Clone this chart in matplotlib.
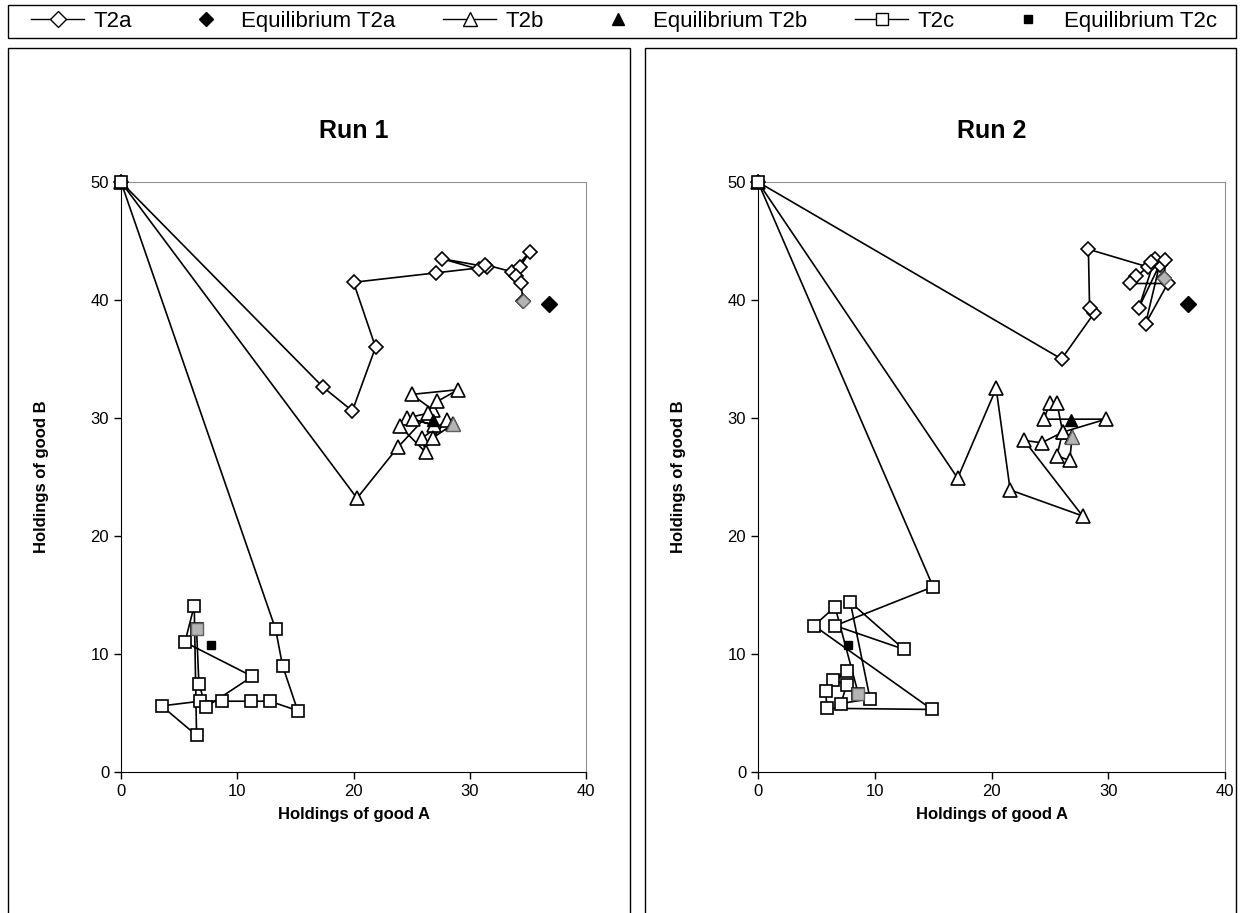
import matplotlib
matplotlib.use("Agg")
import matplotlib.pyplot as plt
from matplotlib.patches import Rectangle
from matplotlib.lines import Line2D

plt.rcParams['font.family'] = ['Liberation Sans', 'DejaVu Sans']

# ---------------- data ----------------
# Run 1
r1_t2a_x = [0, 17.4, 19.9, 21.9, 20.0, 27.1, 31.5, 27.6, 30.8, 31.3, 33.6, 35.2, 34.3, 34.0, 34.4, 34.6]
r1_t2a_y = [50, 32.6, 30.6, 36.0, 41.5, 42.3, 42.8, 43.5, 42.6, 43.0, 42.4, 44.1, 42.8, 42.0, 41.4, 39.9]
r1_t2b_x = [0, 20.3, 23.8, 26.8, 25.0, 29.0, 27.2, 26.4, 24.6, 26.9, 25.1, 24.0, 26.2, 25.9, 28.0, 26.8, 28.6]
r1_t2b_y = [50, 23.2, 27.5, 30.7, 32.0, 32.4, 31.4, 30.4, 30.0, 29.4, 29.9, 29.3, 27.1, 28.3, 29.8, 28.3, 29.5]
r1_t2c_x = [0, 13.3, 13.9, 15.2, 12.8, 11.2, 8.7, 6.8, 3.5, 6.5, 6.3, 5.5, 11.3, 7.3, 6.7, 6.5]
r1_t2c_y = [50, 12.1, 9.0, 5.2, 6.0, 6.0, 6.0, 6.0, 5.6, 3.1, 14.1, 11.0, 8.1, 5.5, 7.5, 12.1]

# Run 2
r2_t2a_x = [0, 26.0, 28.8, 28.4, 28.3, 33.4, 32.4, 31.9, 35.1, 33.2, 34.4, 32.6, 34.0, 33.7, 34.9, 34.8]
r2_t2a_y = [50, 35.0, 38.9, 39.3, 44.3, 42.8, 42.0, 41.4, 41.4, 38.0, 43.0, 39.3, 43.5, 43.2, 43.4, 41.9]
r2_t2b_x = [0, 17.1, 20.4, 21.6, 27.8, 22.8, 24.3, 26.1, 29.8, 24.5, 25.0, 25.6, 26.1, 25.6, 26.7, 26.9]
r2_t2b_y = [50, 24.9, 32.5, 23.9, 21.7, 28.1, 27.9, 28.8, 29.9, 29.9, 31.3, 31.3, 28.8, 26.8, 26.4, 28.4]
r2_t2c_x = [0, 15.0, 6.6, 12.5, 7.9, 9.6, 7.1, 7.6, 6.4, 7.6, 5.8, 5.9, 14.9, 4.8, 6.6, 8.6]
r2_t2c_y = [50, 15.7, 12.4, 10.4, 14.4, 6.2, 5.8, 7.4, 7.8, 8.6, 6.9, 5.4, 5.3, 12.4, 14.0, 6.6]

# Equilibria
eq_t2a = (36.8, 39.7)
eq_t2b = (26.8, 29.8)
eq_t2c = (7.7, 10.8)

runs = [
    ("Run 1", (r1_t2a_x, r1_t2a_y), (r1_t2b_x, r1_t2b_y), (r1_t2c_x, r1_t2c_y)),
    ("Run 2", (r2_t2a_x, r2_t2a_y), (r2_t2b_x, r2_t2b_y), (r2_t2c_x, r2_t2c_y)),
]

W, H = 1242, 913
fig = plt.figure(figsize=(W / 100, H / 100), dpi=100)

def fx(px):
    return px / W

def fy(py):
    return 1 - py / H

# panel borders
for x0, x1 in [(8, 630), (645, 1236)]:
    fig.patches.append(Rectangle((fx(x0), -0.1), fx(x1) - fx(x0), fy(48) + 0.1,
                                 transform=fig.transFigure, fill=False, ec='black', lw=1.0))
# legend box
fig.patches.append(Rectangle((fx(8), fy(38)), fx(1236) - fx(8), fy(5) - fy(38),
                             transform=fig.transFigure, fill=False, ec='black', lw=1.0))

axes_pos = [(121, 586), (758, 1225)]
gray = '#b4b4b4'
lw = 1.2
styles = [('D', 7.5), ('^', 10), ('s', 9)]

for (title, *series), (l, r) in zip(runs, axes_pos):
    ax = fig.add_axes([fx(l), fy(772), fx(r) - fx(l), fy(182) - fy(772)])
    for (sx, sy), (mk, ms) in zip(series, styles):
        ax.plot(sx, sy, color='black', lw=lw, marker=mk, ms=ms, mfc='white',
                mec='black', mew=1.2, zorder=3, clip_on=False)
        ax.plot(sx[-1:], sy[-1:], ls='none', marker=mk, ms=ms, mfc=gray,
                mec='#606060', mew=1.0, zorder=4, clip_on=False)
    ax.plot([eq_t2a[0]], [eq_t2a[1]], ls='none', marker='D', ms=8, color='black', zorder=5)
    ax.plot([eq_t2b[0]], [eq_t2b[1]], ls='none', marker='^', ms=9, color='black', zorder=5)
    ax.plot([eq_t2c[0]], [eq_t2c[1]], ls='none', marker='s', ms=6, color='black', zorder=5)

    ax.set_xlim(0, 40)
    ax.set_ylim(0, 50)
    ax.set_xticks([0, 10, 20, 30, 40])
    ax.set_yticks([0, 10, 20, 30, 40, 50])
    ax.tick_params(direction='out', length=5, width=1, labelsize=12, colors='black')
    for s in ['top', 'right']:
        ax.spines[s].set_color('#909090')
    for s in ['left', 'bottom']:
        ax.spines[s].set_color('black')
    ax.set_title(title, fontsize=18, fontweight='bold', pad=32)
    ax.set_xlabel("Holdings of good A", fontsize=12, fontweight='bold', labelpad=6)
    ax.set_ylabel("Holdings of good B", fontsize=12, fontweight='bold', labelpad=30)

handles = [
    Line2D([], [], color='black', lw=1, marker='D', ms=8, mfc='white', mec='black'),
    Line2D([], [], ls='none', marker='D', ms=7, color='black'),
    Line2D([], [], color='black', lw=1, marker='^', ms=10, mfc='white', mec='black'),
    Line2D([], [], ls='none', marker='^', ms=9, color='black'),
    Line2D([], [], color='black', lw=1, marker='s', ms=9, mfc='white', mec='black'),
    Line2D([], [], ls='none', marker='s', ms=6, color='black'),
]
labels = ["T2a", "Equilibrium T2a", "T2b", "Equilibrium T2b", "T2c", "Equilibrium T2c"]
fig.legend(handles, labels, loc='center', ncol=6, frameon=False, fontsize=16,
           bbox_to_anchor=(fx(22), fy(38), fx(1226) - fx(22), fy(5) - fy(38)),
           mode='expand', handlelength=2.4, handletextpad=0.4, borderaxespad=0)

fig.savefig("out.png", dpi=100)
